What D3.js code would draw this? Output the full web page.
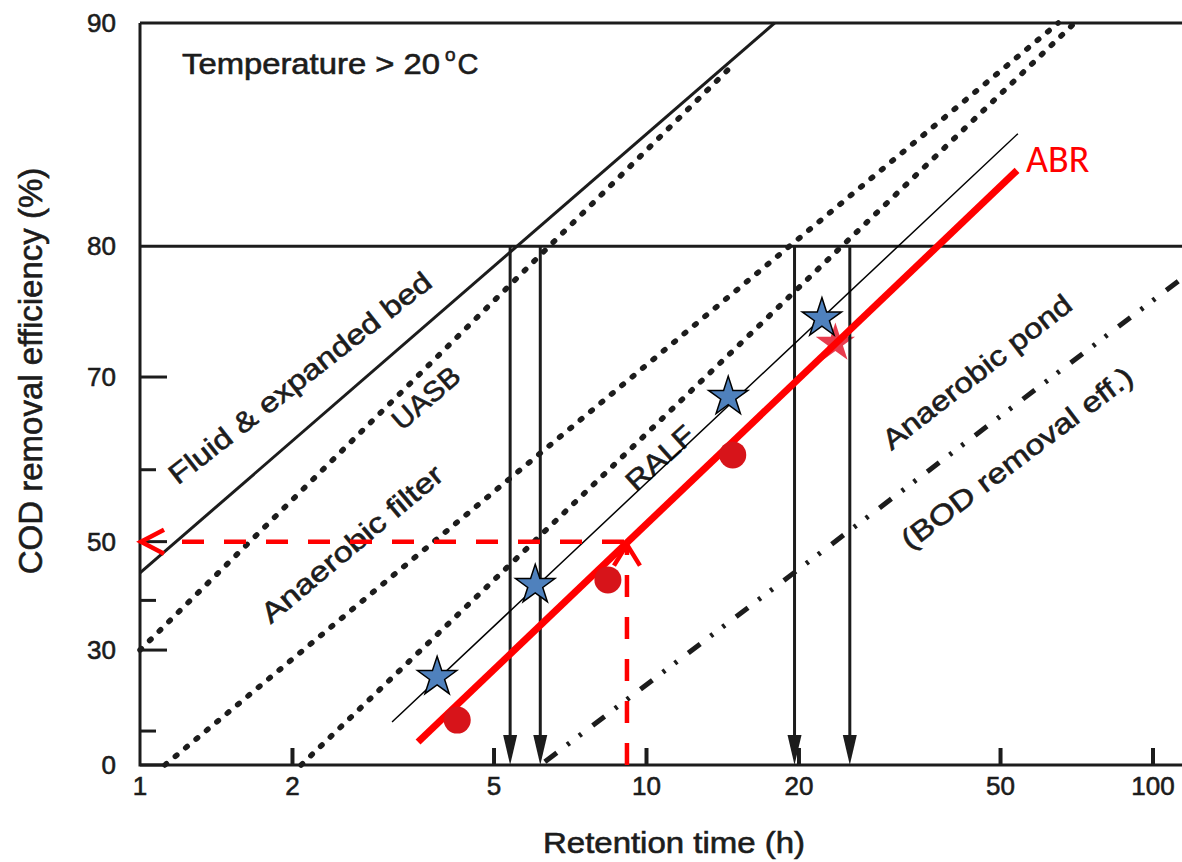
<!DOCTYPE html>
<html>
<head>
<meta charset="utf-8">
<title>COD removal efficiency vs retention time</title>
<script src="https://cdnjs.cloudflare.com/ajax/libs/d3/7.8.5/d3.min.js"></script>
<style>
  body { margin: 0; background: #fff; }
  svg { display: block; font-family: "Liberation Sans", Arial, sans-serif; }
  .ink { stroke: #1c1c1c; fill: none; }
  .lbl { fill: #1c1c1c; stroke: #1c1c1c; stroke-width: 0.6px; }
</style>
</head>
<body>
<div id="canvas"></div>
<script>
/*
 Data: [retention time (h), COD removal (%)]
*/
var xTickLabels = [1, 2, 5, 10, 20, 50, 100],
  xTickMarks = [2, 5, 10, 20, 50, 100],
  yTickLabels = [0, 30, 50, 70, 80, 90],
  yMinorTicks = [10, 40, 60];

var fluidBed = [[1, 44.9], [17.9, 90]],
  uasb = [[1, 30], [14.6, 88.5]],
  anFilter = [[1.12, 0], [65, 90]],
  ralf = [[2.08, 0], [70, 90]],
  anPond = [[6.3, 1], [115, 78]];

var blackFit = [[3.145, 12.5], [54.1, 85.9]],
  abrFit = [[3.54, 6.9], [53.9, 84.2]];

var blueStars = [[3.86, 23.9], [6.03, 42.8], [14.5, 68.1], [22.2, 75.0]],
  redDots = [[4.23, 13.0], [8.39, 43.7], [14.8, 61.8]],
  redStar = [[23.6, 73.0]];

var arrowTimes = [5.38, 6.17, 19.6, 25.2],   // vertical arrows from 80 %
  guideTime = 9.15, guideEff = 50;

var width = 1182, height = 862;

var x = d3.scaleLog().domain([1, 100]).range([140, 1153]);
// y axis is linear in log(1/(1-E))
var yLog = d3.scaleLog().domain([1, 0.1]).range([765, 23]);
function y(e) { return yLog(1 - e / 100); }

var line = d3.line().x(function (d) { return x(d[0]); }).y(function (d) { return y(d[1]); });

var svg = d3.select("#canvas").append("svg")
  .attr("width", width).attr("height", height);

/* frame */
var g = svg.append("g");
g.append("path").attr("class", "ink").attr("stroke-width", 3)
  .attr("d", "M" + x(1) + "," + y(90) + "V" + y(0) + "H" + width);
[90, 80].forEach(function (e) {
  g.append("line").attr("class", "ink").attr("stroke-width", 3)
    .attr("x1", x(1)).attr("x2", width).attr("y1", y(e)).attr("y2", y(e));
});

// ticks
g.selectAll(".ytk").data([0, 30, 50, 70]).enter().append("line")
  .attr("class", "ink").attr("stroke-width", 3)
  .attr("x1", x(1)).attr("x2", x(1) + 27).attr("y1", y).attr("y2", y);
g.selectAll(".ymn").data(yMinorTicks).enter().append("line")
  .attr("class", "ink").attr("stroke-width", 3)
  .attr("x1", x(1)).attr("x2", x(1) + 16).attr("y1", y).attr("y2", y);
g.selectAll(".xtk").data(xTickMarks).enter().append("line")
  .attr("class", "ink").attr("stroke-width", 4)
  .attr("x1", x).attr("x2", x).attr("y1", y(0)).attr("y2", y(0) - 17);

g.selectAll(".ylab").data(yTickLabels).enter().append("text")
  .attr("class", "lbl").attr("font-size", 26)
  .attr("text-anchor", "end").attr("dominant-baseline", "central")
  .attr("x", 116).attr("y", y).text(function (d) { return d; });
g.selectAll(".xlab").data(xTickLabels).enter().append("text")
  .attr("class", "lbl").attr("font-size", 26)
  .attr("text-anchor", "middle")
  .attr("x", x).attr("y", y(0) + 30).text(function (d) { return d; });

g.append("text").attr("class", "lbl").attr("font-size", 29)
  .attr("text-anchor", "middle").attr("x", 674).attr("y", 853)
  .attr("textLength", 262).attr("lengthAdjust", "spacingAndGlyphs")
  .text("Retention time (h)");
g.append("text").attr("class", "lbl").attr("font-size", 33)
  .attr("text-anchor", "middle")
  .attr("transform", "translate(42,371) rotate(-90)")
  .text("COD removal efficiency (%)");

var temp = g.append("text").attr("class", "lbl").attr("font-size", 29)
  .attr("x", 182).attr("y", 74);
temp.append("tspan").attr("textLength", 258).attr("lengthAdjust", "spacingAndGlyphs")
  .text("Temperature > 20");
temp.append("tspan").attr("font-size", 19).attr("dx", 5).attr("dy", -13).text("o");
temp.append("tspan").attr("dy", 13).attr("dx", 2).text("C");

/* faded red star sits under the scanned lines */
var star = d3.symbol().type(d3.symbolStar).size(480);
svg.selectAll(".rstar").data(redStar).enter().append("path")
  .attr("d", star).attr("fill", "#e5263a").attr("opacity", 0.9)
  .attr("transform", function (d) { return "translate(" + x(d[0]) + "," + y(d[1]) + ")"; });

/* process curves */
var curves = svg.append("g");
curves.append("path").datum(fluidBed).attr("class", "ink")
  .attr("stroke-width", 3).attr("d", line);
[uasb, anFilter, ralf].forEach(function (c) {
  curves.append("path").datum(c).attr("class", "ink")
    .attr("stroke-width", 5.5).attr("stroke-linecap", "round")
    .attr("stroke-dasharray", "2 11.5").attr("d", line);
});
curves.append("path").datum(anPond).attr("class", "ink")
  .attr("stroke-width", 5).attr("stroke-dasharray", "15 13 3 12 3 14")
  .attr("d", line);

// vertical arrows down from 80 %
var arr = curves.selectAll(".arr").data(arrowTimes).enter().append("g");
arr.append("line").attr("class", "ink").attr("stroke-width", 3)
  .attr("x1", x).attr("x2", x).attr("y1", y(80)).attr("y2", y(0) - 20);
arr.append("path").attr("fill", "#1c1c1c")
  .attr("d", function (d) {
    var px = x(d), py = y(0);
    return "M" + (px - 7) + "," + (py - 30) + "L" + (px + 7) + "," + (py - 30) + "L" + px + "," + py + "Z";
  });

/* line labels */
var labels = [
  { t: "Fluid & expanded bed", cx: 300, cy: 378, a: -38, len: 325 },
  { t: "UASB", cx: 426, cy: 398, a: -41, len: 80 },
  { t: "Anaerobic filter", cx: 352, cy: 544, a: -40, len: 228 },
  { t: "RALF", cx: 660, cy: 458, a: -42, len: 82 },
  { t: "Anaerobic pond", cx: 977, cy: 372, a: -38, len: 232 },
  { t: "(BOD removal eff.)", cx: 1017, cy: 458, a: -37, len: 282 }
];
svg.selectAll(".clab").data(labels).enter().append("text")
  .attr("class", "lbl").attr("font-size", 28)
  .attr("text-anchor", "middle").attr("dominant-baseline", "central")
  .attr("textLength", function (d) { return d.len; })
  .attr("lengthAdjust", "spacingAndGlyphs")
  .attr("transform", function (d) { return "translate(" + d.cx + "," + d.cy + ") rotate(" + d.a + ")"; })
  .text(function (d) { return d.t; });

/* overlays */
svg.append("path").datum(blackFit).attr("stroke", "#000").attr("fill", "none")
  .attr("stroke-width", 1.5).attr("d", line);
svg.append("path").datum(abrFit).attr("stroke", "#ff0000").attr("fill", "none")
  .attr("stroke-width", 7).attr("d", line);
svg.append("text").attr("x", 1026).attr("y", 172).attr("font-size", 38)
  .attr("fill", "#ff0000").attr("font-family", "Carlito, 'Open Sans', sans-serif")
  .text("ABR");

svg.selectAll(".rdot").data(redDots).enter().append("circle")
  .attr("cx", function (d) { return x(d[0]); })
  .attr("cy", function (d) { return y(d[1]); })
  .attr("r", 13.5).attr("fill", "#d7141a");

svg.selectAll(".bstar").data(blueStars).enter().append("path")
  .attr("d", star).attr("fill", "#4f81bd").attr("stroke", "#000").attr("stroke-width", 1.5)
  .attr("transform", function (d) { return "translate(" + x(d[0]) + "," + y(d[1]) + ")"; });

// red dashed reading guide
var gx = x(guideTime), gy = y(guideEff);
var guide = svg.append("g").attr("stroke", "#ff0000").attr("fill", "none").attr("stroke-width", 4.5);
guide.append("line").attr("stroke-dasharray", "22 20")
  .attr("x1", gx).attr("x2", gx).attr("y1", y(0)).attr("y2", gy + 4);
guide.append("line").attr("stroke-dasharray", "22 20")
  .attr("x1", x(1) + 42).attr("x2", gx).attr("y1", gy).attr("y2", gy);
guide.append("path")
  .attr("d", "M" + (gx - 13) + "," + (gy + 24) + "L" + gx + "," + (gy + 3) + "L" + (gx + 13) + "," + (gy + 24));
guide.append("path")
  .attr("d", "M" + (x(1) + 24) + "," + (gy - 12) + "L" + (x(1) + 1) + "," + gy + "L" + (x(1) + 24) + "," + (gy + 12));
</script>
</body>
</html>
